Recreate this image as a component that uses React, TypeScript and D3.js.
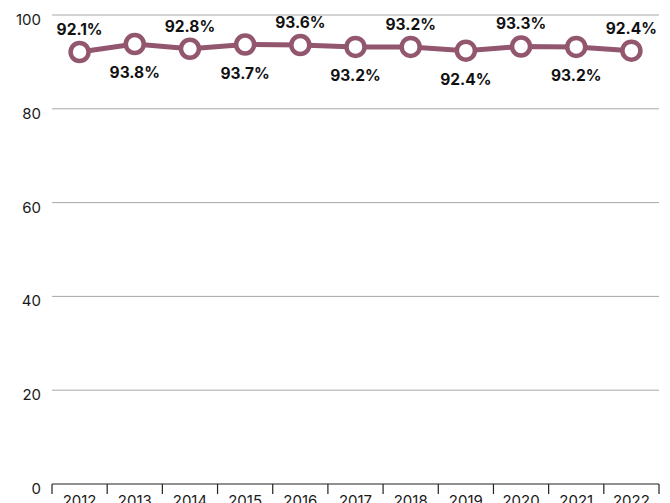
import { useEffect, useRef } from "react";
import * as d3 from "d3";

const years = ["2012", "2013", "2014", "2015", "2016", "2017", "2018", "2019", "2020", "2021", "2022"];
const rates = [92.1, 93.8, 92.8, 93.7, 93.6, 93.2, 93.2, 92.4, 93.3, 93.2, 92.4];
const yTicks = [0, 20, 40, 60, 80, 100];

const W = 670;
const H = 503;
const margin = { top: 15, right: 11, bottom: 19, left: 52 };
const lineColor = "#93566f";

export default function App() {
  const svgRef = useRef<SVGSVGElement>(null);

  useEffect(() => {
    if (!svgRef.current) return;
    const svg = d3.select(svgRef.current);
    svg.selectAll("*").remove();

    const x = d3.scaleBand()
      .domain(years)
      .range([margin.left, W - margin.right])
      .padding(0);

    const y = d3.scaleLinear()
      .domain([0, 100])
      .range([H - margin.bottom, margin.top]);

    // gridlines
    svg.append("g")
      .selectAll("line")
      .data(yTicks.filter(t => t > 0))
      .join("line")
      .attr("x1", margin.left)
      .attr("x2", W - margin.right)
      .attr("y1", d => y(d))
      .attr("y2", d => y(d))
      .attr("stroke", "#a8a8a8")
      .attr("stroke-width", 1);

    // y labels
    svg.append("g")
      .selectAll("text")
      .data(yTicks)
      .join("text")
      .attr("x", 41)
      .attr("y", d => y(d) + 10)
      .attr("text-anchor", "end")
      .attr("font-family", "Inter, sans-serif")
      .attr("font-size", 15)
      .attr("fill", "#1a1a1a")
      .text(d => d);

    // x axis
    const xAxis = svg.append("g");
    xAxis.append("line")
      .attr("x1", margin.left)
      .attr("x2", W - margin.right)
      .attr("y1", y(0))
      .attr("y2", y(0))
      .attr("stroke", "#222")
      .attr("stroke-width", 1.2);

    const edges = years.map(yr => x(yr)!).concat([W - margin.right]);
    xAxis.selectAll("line.tick")
      .data(edges)
      .join("line")
      .attr("class", "tick")
      .attr("x1", d => d)
      .attr("x2", d => d)
      .attr("y1", y(0))
      .attr("y2", y(0) + 10)
      .attr("stroke", "#222")
      .attr("stroke-width", 1.2);

    xAxis.selectAll("text")
      .data(years)
      .join("text")
      .attr("x", d => x(d)! + x.bandwidth() / 2)
      .attr("y", y(0) + 22)
      .attr("text-anchor", "middle")
      .attr("font-family", "Inter, sans-serif")
      .attr("font-size", 15)
      .attr("fill", "#1a1a1a")
      .text(d => d);

    const pts = years.map((yr, i) => ({ yr, v: rates[i], i }));
    const cx = (d: { yr: string }) => x(d.yr)! + x.bandwidth() / 2;

    const line = d3.line<{ yr: string; v: number }>()
      .x(d => cx(d))
      .y(d => y(d.v));

    svg.append("path")
      .datum(pts)
      .attr("d", line)
      .attr("fill", "none")
      .attr("stroke", lineColor)
      .attr("stroke-width", 5);

    svg.append("g")
      .selectAll("circle")
      .data(pts)
      .join("circle")
      .attr("cx", d => cx(d))
      .attr("cy", d => y(d.v))
      .attr("r", 9)
      .attr("fill", "#fff")
      .attr("stroke", lineColor)
      .attr("stroke-width", 4.5);

    svg.append("g")
      .selectAll("text")
      .data(pts)
      .join("text")
      .attr("x", d => cx(d))
      .attr("y", d => (d.i % 2 === 0 ? y(d.v) - 17 : y(d.v) + 34))
      .attr("text-anchor", "middle")
      .attr("font-family", "Inter, sans-serif")
      .attr("font-weight", 700)
      .attr("font-size", 15.5)
      .attr("fill", "#111")
      .text(d => `${d.v.toFixed(1)}%`);
  }, []);

  return (
    <svg
      ref={svgRef}
      width={W}
      height={H}
      style={{ position: "absolute", left: 0, top: 0, background: "#fff" }}
    />
  );
}
